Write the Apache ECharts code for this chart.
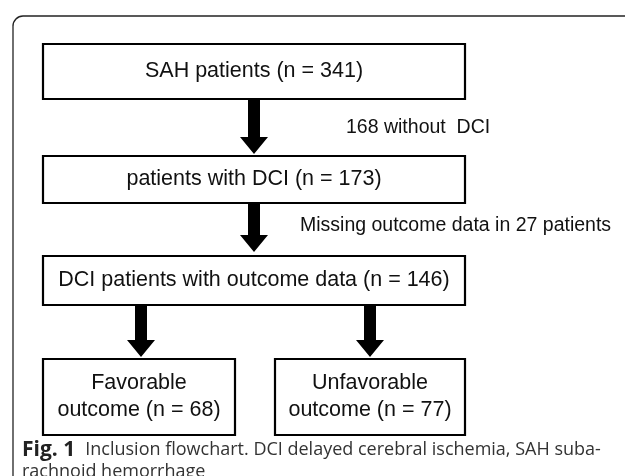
<!DOCTYPE html>
<html>
<head>
<meta charset="utf-8">
<script src="https://cdn.jsdelivr.net/npm/echarts@6/dist/echarts.min.js"></script>
<style>html,body{margin:0;padding:0;background:#fff}#c{width:625px;height:476px}</style>
</head>
<body>
<div id="c"></div>
<script>
// ---- data ----
const stageNames = ['SAH patients', 'patients with DCI', 'DCI patients with outcome data', 'Favorable\noutcome', 'Unfavorable\noutcome'];
const stageCounts = [341, 173, 146, 68, 77];
const exclusionNotes = ['168 without  DCI', 'Missing outcome data in 27 patients'];
const captionBold = 'Fig. 1';
const captionLines = ['Inclusion flowchart. DCI delayed cerebral ischemia, SAH suba-', 'rachnoid hemorrhage'];

// ---- layout (separate from data) ----
const boxRects = [[43, 44, 465, 99], [43, 156, 465, 203], [43, 256, 465, 305], [43, 359, 235, 435], [275, 359, 465, 435]];
const arrowPaths = [[254, 100, 154], [254, 204, 252], [141, 306, 357], [370, 306, 357]];
const notePos = [[346, 128], [300, 226]];

const boxFont = '21.5px "Liberation Sans", Arial, sans-serif';
const noteFont = '19.5px "Liberation Sans", Arial, sans-serif';

const chart = echarts.init(document.getElementById('c'), null, {renderer: 'canvas'});

function boxLabel(i) {
  return stageNames[i] + ' (n = ' + stageCounts[i] + ')';
}

chart.setOption({
  animation: false,
  backgroundColor: '#fff',
  grid: {left: 0, right: 0, top: 0, bottom: 0},
  xAxis: {type: 'value', min: 0, max: 625, show: false},
  yAxis: {type: 'value', min: 0, max: 476, inverse: true, show: false},
  title: {
    left: 22, top: 439, padding: 0,
    text: '{b|' + captionBold + '}  {n|' + captionLines[0] + '}\n{n|' + captionLines[1] + '}',
    textStyle: {
      fontWeight: 'normal',
      rich: {
        b: {fontFamily: '"Open Sans", sans-serif', fontWeight: 'bold', fontSize: 21, color: '#222', lineHeight: 22},
        n: {fontFamily: '"Open Sans", sans-serif', fontWeight: 'normal', fontSize: 18, color: '#333', lineHeight: 22}
      }
    }
  },
  series: [
    {
      type: 'custom',
      coordinateSystem: 'cartesian2d',
      data: stageNames.map((n, i) => [i]),
      renderItem: function (params, api) {
        const i = api.value(0);
        const r = boxRects[i];
        const p0 = api.coord([r[0], r[1]]);
        const p1 = api.coord([r[2], r[3]]);
        return {
          type: 'group',
          children: [
            {type: 'rect', shape: {x: p0[0], y: p0[1], width: p1[0] - p0[0], height: p1[1] - p0[1]},
             style: {fill: '#fff', stroke: '#000', lineWidth: 2.2}},
            {type: 'text', style: {text: boxLabel(i), x: (p0[0] + p1[0]) / 2, y: (p0[1] + p1[1]) / 2,
             align: 'center', verticalAlign: 'middle', font: boxFont, fill: '#111', lineHeight: 27}}
          ]
        };
      }
    },
    {
      type: 'custom',
      coordinateSystem: 'cartesian2d',
      data: arrowPaths.map((a, i) => [i]),
      renderItem: function (params, api) {
        const a = arrowPaths[api.value(0)];
        const top = api.coord([a[0], a[1]]);
        const tip = api.coord([a[0], a[2]]);
        const cx = top[0], y0 = top[1], y1 = tip[1];
        const sw = 6, hw = 14, hl = 17;
        return {
          type: 'polygon',
          shape: {points: [[cx - sw, y0], [cx + sw, y0], [cx + sw, y1 - hl], [cx + hw, y1 - hl], [cx, y1], [cx - hw, y1 - hl], [cx - sw, y1 - hl]]},
          style: {fill: '#000'}
        };
      }
    },
    {
      type: 'custom',
      coordinateSystem: 'cartesian2d',
      data: exclusionNotes.map((t, i) => [i]),
      renderItem: function (params, api) {
        const i = api.value(0);
        const p = api.coord(notePos[i]);
        return {type: 'text', style: {text: exclusionNotes[i], x: p[0], y: p[1], align: 'left', verticalAlign: 'middle', font: noteFont, fill: '#111'}};
      }
    }
  ],
  graphic: [
    {type: 'polyline', shape: {points: [[13, 476], [13, 26]]}, style: {stroke: '#333', lineWidth: 1.4, fill: null}},
    {type: 'polyline', shape: {points: [[23, 16], [625, 16]]}, style: {stroke: '#222', lineWidth: 1.4, fill: null}},
    {type: 'arc', shape: {cx: 23, cy: 26, r: 10, startAngle: Math.PI, endAngle: Math.PI * 1.5}, style: {stroke: '#222', lineWidth: 1.4, fill: null}}
  ]
});
</script>
</body>
</html>
